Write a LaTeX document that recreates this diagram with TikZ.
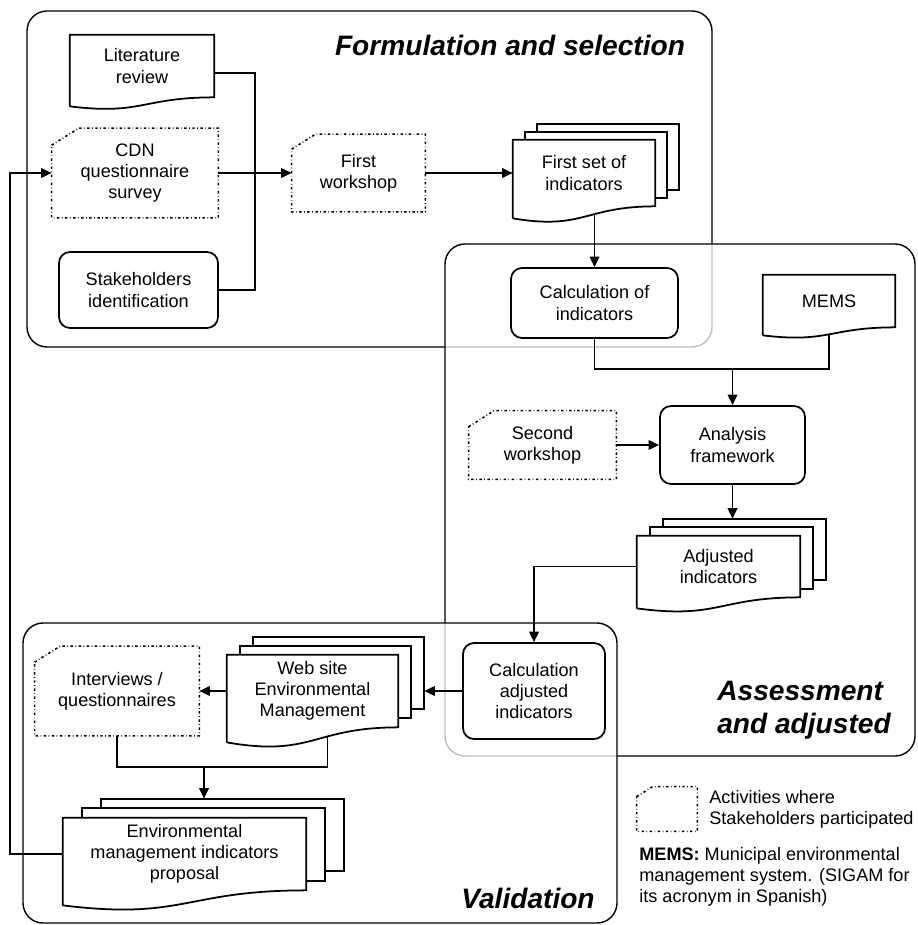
\documentclass[tikz,border=0pt]{standalone}
\usepackage{fontspec}
\setmainfont{Liberation Sans}
\usetikzlibrary{arrows.meta, calc}

\tikzset{
  boxsize/.style 2 args={minimum width=#1*0.02cm, minimum height=#2*0.02cm},
  proc/.style={draw, line width=1pt, rounded corners=0.22cm, align=center, inner sep=1pt},
  card/.style={align=center, inner sep=1pt, append after command={\pgfextra{\pgfinterruptpath
    \draw[line width=0.9pt, dash pattern=on 1.4pt off 1.4pt on 0.4pt off 1.4pt]
      ($(\tikzlastnode.north west)+(0,#1)$) -- ($(\tikzlastnode.north west)+(1.6*#1,0)$) -- (\tikzlastnode.north east)
      -- (\tikzlastnode.south east) -- (\tikzlastnode.south west) -- cycle;
    \endpgfinterruptpath}}},
  card/.default=16,
  doc/.style={align=center, inner sep=1pt, append after command={\pgfextra{\pgfinterruptpath
    \draw[line width=1pt, line join=round] ($(\tikzlastnode.south west)+(0,#1)$) -- (\tikzlastnode.north west) -- (\tikzlastnode.north east)
      -- (\tikzlastnode.south east) .. controls (\tikzlastnode.south) and ($(\tikzlastnode.south)+(0,2*#1)$) .. ($(\tikzlastnode.south west)+(0,#1)$);
    \endpgfinterruptpath}}},
  multidoc/.style n args={3}{doc=#1, append after command={\pgfextra{\pgfinterruptpath
    \foreach \k in {1,2}
      \draw[line width=1pt] ($(\tikzlastnode.north west)+(\k*#2,#3-\k*#3)$) -- ++(0,-#3)
        -| ($(\tikzlastnode.south east)+(\k*#2,-\k*#3)$) -- ++(-#2,0);
    \endpgfinterruptpath}}},
  title/.style={font=\fontsize{16}{19}\selectfont\bfseries\itshape},
  conn/.style={line width=0.9pt},
  arr/.style={conn, -{Triangle[length=6pt,width=5.5pt]}}
}

\begin{document}
\begin{tikzpicture}[x=0.02cm, y=-0.02cm, every node/.style={font=\fontsize{10.3}{12}\selectfont}]
  \useasboundingbox (0,0) rectangle (918,925);
  \draw[line width=0.8pt, rounded corners=0.4cm] (27,11) rectangle (712,347);
  \draw[line width=0.8pt, rounded corners=0.4cm, fill=white, fill opacity=0.75] (445,244) rectangle (915,756);
  \draw[line width=0.8pt, rounded corners=0.4cm, fill=white, fill opacity=0.75] (23,623) rectangle (617,923);

  \node[title] (t1) at (510,45) {Formulation and selection};
  \node[title, align=left] (t2) at (804,710) {Assessment\\and adjusted};
  \node[title] (t3) at (528,898) {Validation};

  \node[doc=9, boxsize={144}{62}] (lit) at (142,66) {Literature\\review};
  \node[card=17, boxsize={166}{89}] (cdn) at (135,173) {CDN\\questionnaire\\survey};
  \node[proc, boxsize={159}{76}] (si) at (138.5,290) {Stakeholders\\identification};
  \node[card=15, boxsize={133}{77}] (fw) at (358.5,173) {First\\workshop};
  \node[multidoc={12}{12}{8}, boxsize={142}{66}] (fs) at (584,173) {First set of\\indicators};
  \node[proc, boxsize={167}{70}] (ci) at (594.5,303) {Calculation of\\indicators};
  \node[doc=8, boxsize={132}{52}] (mems) at (829,301) {MEMS};
  \node[card, boxsize={147}{68}] (sw) at (542.5,445) {Second\\workshop};
  \node[proc, boxsize={145}{78}] (af) at (732.5,445) {Analysis\\framework};
  \node[multidoc={11}{13}{8.5}, boxsize={163}{61}] (adj) at (718.5,566.5) {Adjusted\\indicators};
  \node[proc, boxsize={142}{96}] (ca) at (534,691) {Calculation\\adjusted\\indicators};
  \node[multidoc={15}{13}{9}, boxsize={171}{72}] (web) at (312.5,691) {Web site\\Environmental\\Management};
  \node[card, boxsize={164}{89}] (iv) at (117,691) {Interviews /\\questionnaires};
  \node[multidoc={15}{19}{9.5}, boxsize={243}{72}] (env) at (184.5,854) {Environmental\\management indicators\\proposal};
  \node[card=10, boxsize={60}{44}] (lg) at (667,809) {};
  \node[anchor=west, align=left, inner sep=0pt] (lgtext) at (709,809) {Activities where\\Stakeholders participated};
  \node[anchor=west, align=left, inner sep=0pt] (memstext) at (639,877) {\textbf{MEMS:} Municipal environmental\\management system. (SIGAM for\\its acronym in Spanish)};

  \coordinate (j1) at (255,173);
  \coordinate (j2) at (732.5,369);
  \coordinate (j3) at (204,767);
  \coordinate (lp) at (10,500);

  \draw[conn] ([yshift=-0.14cm]lit.east) -| (j1) |- (si.east);
  \draw[arr] (cdn.east) -- (fw.west);
  \draw[arr] (fw.east) -- (fs.west);
  \draw[arr] ($(fs.south -| ci.north)+(0,8)$) -- (ci.north);
  \draw[conn] (ci.south) |- (j2) -| ($(mems.south)+(0,7)$);
  \draw[arr] (j2) -- (af.north);
  \draw[arr] (sw.east) -- (af.west);
  \draw[arr] (af.south) -- ($(af.south |- adj.north)+(0,-17)$);
  \draw[arr] (adj.west) -| (ca.north);
  \draw[arr] (ca.west) -- ([xshift=0.52cm]web.east);
  \draw[arr] (web.west) -- (iv.east);
  \draw[conn] (iv.south) |- (j3) -| ($(web.south)+(15,10)$);
  \draw[arr] (j3) -- ($(j3 |- env.north)+(0,-19)$);
  \draw[arr] (env.west) -| (lp) |- (cdn.west);
\end{tikzpicture}
\end{document}
